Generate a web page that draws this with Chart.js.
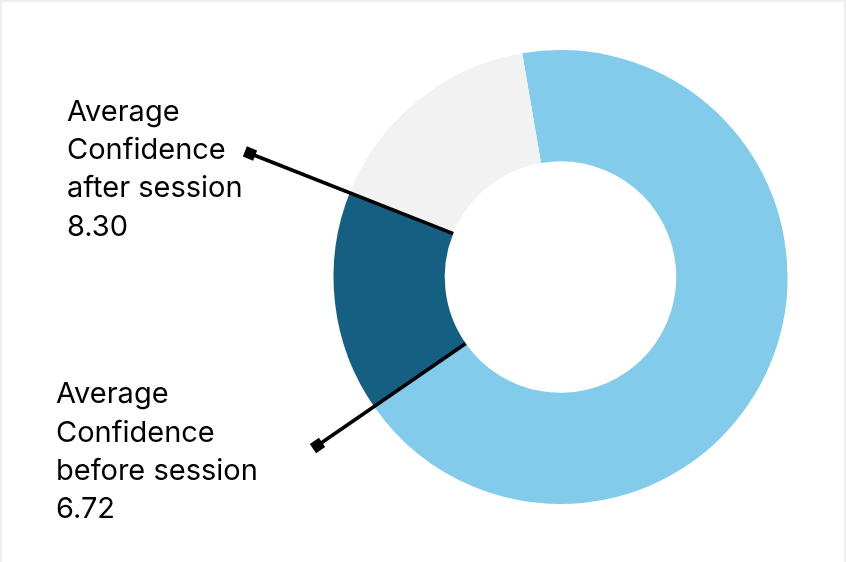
<!DOCTYPE html>
<html>
<head>
<meta charset="utf-8">
<script src="https://cdn.jsdelivr.net/npm/chart.js@4.4.1/dist/chart.umd.min.js"></script>
<style>
  html, body { margin: 0; padding: 0; background: #ffffff; }
  #wrap { position: relative; width: 846px; height: 562px; overflow: hidden; }
  #chart { position: absolute; left: 0; top: 0; }
  #frame {
    position: absolute; left: 0; top: 0; width: 846px; height: 562px;
    box-sizing: border-box; border: 2px solid #efefef; border-bottom: none;
    pointer-events: none;
  }
</style>
</head>
<body>
<div id="wrap">
  <canvas id="chart" width="846" height="562"></canvas>
  <div id="frame"></div>
</div>
<script>
// data
const sliceNames = ['Remaining', 'Average Confidence before session', 'Average Confidence after session'];
const sliceShares = [244.7, 57.0, 58.3];      // arc sizes as drawn (degrees of the ring)
const sliceColors = ['#83cbeb', '#156082', '#f2f2f2'];
const beforeLines = ['Average', 'Confidence', 'before session', '6.72'];
const afterLines = ['Average', 'Confidence', 'after session', '8.30'];

const FONT = '29px Inter, "Open Sans", sans-serif';
const LINE_H = 38.3;

// leader lines + data labels
const calloutPlugin = {
  id: 'callouts',
  afterDatasetsDraw(chart) {
    const ctx = chart.ctx;
    const arc = chart.getDatasetMeta(0).data[1];
    const p = arc.getProps(['x', 'y', 'innerRadius', 'startAngle', 'endAngle'], true);

    const callouts = [
      { angle: p.endAngle, marker: [250, 153.5], text: afterLines, tx: 67, ty: 120.7 },
      { angle: p.startAngle, marker: [317.5, 445.5], text: beforeLines, tx: 56, ty: 403.3 }
    ];

    ctx.save();
    callouts.forEach(c => {
      const sx = p.x + p.innerRadius * Math.cos(c.angle);
      const sy = p.y + p.innerRadius * Math.sin(c.angle);
      const [mx, my] = c.marker;

      ctx.strokeStyle = '#000';
      ctx.lineWidth = 3.6;
      ctx.beginPath();
      ctx.moveTo(sx, sy);
      ctx.lineTo(mx, my);
      ctx.stroke();

      // square end marker turned along the line
      const a = Math.atan2(sy - my, sx - mx);
      ctx.save();
      ctx.translate(mx, my);
      ctx.rotate(a);
      ctx.fillStyle = '#000';
      ctx.fillRect(-5.5, -5.5, 11, 11);
      ctx.restore();

      ctx.fillStyle = '#000';
      ctx.font = FONT;
      ctx.textAlign = 'left';
      ctx.textBaseline = 'alphabetic';
      c.text.forEach((t, i) => ctx.fillText(t, c.tx, c.ty + i * LINE_H));
    });
    ctx.restore();
  }
};

new Chart(document.getElementById('chart'), {
  type: 'doughnut',
  data: {
    labels: sliceNames,
    datasets: [{
      data: sliceShares,
      backgroundColor: sliceColors,
      borderWidth: 0,
      hoverOffset: 0
    }]
  },
  options: {
    responsive: false,
    animation: false,
    devicePixelRatio: 1,
    rotation: -9.7,
    cutout: '51%',
    layout: { padding: { left: 333.5, top: 50, right: 58.5, bottom: 58 } },
    plugins: {
      legend: { display: false },
      tooltip: { enabled: false },
      title: { display: false }
    }
  },
  plugins: [calloutPlugin]
});
</script>
</body>
</html>
